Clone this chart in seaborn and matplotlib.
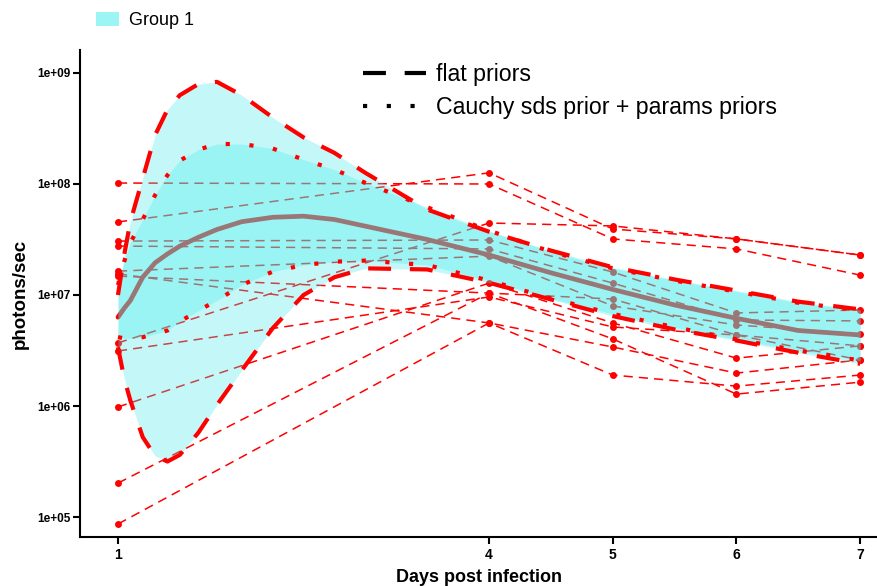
import numpy as np
import pandas as pd
import matplotlib
matplotlib.use('Agg')
import matplotlib.pyplot as plt
from matplotlib.lines import Line2D
from matplotlib.patches import Patch
from matplotlib.ticker import NullLocator
import seaborn as sns

# Observed flux per mouse (photons/sec) at each imaging day
days = [1, 4, 5, 6, 7]
mouse_01 = [1.02e8, 1.00e8, 3.20e7, 2.60e7, 1.51e7]
mouse_02 = [4.55e7, 1.26e8, 3.93e7, 3.20e7, 2.29e7]
mouse_03 = [3.06e7, 3.13e7, 1.61e7, 6.89e6, 7.33e6]
mouse_04 = [2.76e7, 2.60e7, 1.28e7, 5.96e6, 5.84e6]
mouse_05 = [1.64e7, 2.24e7, 7.96e6, 5.37e6, 4.46e6]
mouse_06 = [1.55e7, 5.60e6, 1.90e6, 1.51e6, 1.90e6]
mouse_07 = [1.48e7, 1.04e7, 9.20e6, 4.36e6, 3.48e6]
mouse_08 = [3.70e6, 4.45e7, 4.19e7, 3.20e7, 2.29e7]
mouse_09 = [3.13e6, 9.60e6, 5.15e6, 4.36e6, 2.60e6]
mouse_10 = [9.80e5, 1.28e7, 5.60e6, 2.70e6, 3.48e6]
mouse_11 = [2.02e5, 1.04e7, 4.02e6, 1.28e6, 1.64e6]
mouse_12 = [8.65e4, 5.60e6, 3.40e6, 1.98e6, 2.60e6]
mice = [mouse_01, mouse_02, mouse_03, mouse_04, mouse_05, mouse_06,
        mouse_07, mouse_08, mouse_09, mouse_10, mouse_11, mouse_12]

# Fitted curve and credible bands, log10(photons/sec)
band_days = [1, 1.05, 1.1, 1.2, 1.3, 1.4, 1.5, 1.65, 1.8, 2, 2.25, 2.5,
             2.75, 3, 3.5, 4, 4.5, 5, 5.5, 6, 6.5, 7]
flat_upper = [7.00, 7.36, 7.66, 8.05, 8.44, 8.67, 8.80, 8.90, 8.92, 8.80, 8.60,
              8.42, 8.28, 8.10, 7.77, 7.57, 7.40, 7.25, 7.14, 7.04, 6.94, 6.87]
flat_lower = [6.53, 6.25, 6.05, 5.72, 5.55, 5.50, 5.56, 5.76, 6.01, 6.32, 6.70,
              7.00, 7.16, 7.24, 7.23, 7.11, 6.96, 6.81, 6.69, 6.59, 6.48, 6.38]
cauchy_upper = [7.09, 7.30, 7.47, 7.68, 7.90, 8.08, 8.21, 8.31, 8.36, 8.36, 8.32,
                8.22, 8.13, 8.01, 7.79, 7.58, 7.39, 7.24, 7.13, 7.03, 6.93, 6.86]
cauchy_lower = [6.62, 6.61, 6.61, 6.62, 6.65, 6.68, 6.76, 6.86, 6.95, 7.09, 7.21,
                7.27, 7.30, 7.31, 7.27, 7.13, 6.97, 6.83, 6.71, 6.60, 6.50, 6.41]
mean_curve = [6.80, 6.88, 6.95, 7.16, 7.29, 7.37, 7.44, 7.52, 7.59, 7.66, 7.70,
              7.71, 7.68, 7.62, 7.50, 7.36, 7.20, 7.05, 6.91, 6.79, 6.68, 6.64]

y_ticks = [1e5, 1e6, 1e7, 1e8, 1e9]
y_tick_labels = ['1e+05', '1e+06', '1e+07', '1e+08', '1e+09']

sns.set_style('ticks')
plt.rcParams['font.family'] = ['Liberation Sans', 'DejaVu Sans']
for key in ['text.color', 'axes.labelcolor', 'xtick.color', 'ytick.color']:
    plt.rcParams[key] = 'black'

# long table for the per-mouse trajectories
df = pd.DataFrame({
    'mouse': np.repeat(np.arange(len(mice)), len(days)),
    'day': days * len(mice),
    'flux': np.concatenate(mice),
})

fig = plt.figure(figsize=(8.78, 5.86), dpi=100)
ax = fig.add_axes([80 / 878, 1 - 537 / 586, 798 / 878, 487 / 586])

# Individual mice (drawn under the bands)
sns.lineplot(data=df, x='day', y='flux', units='mouse', estimator=None,
             color='red', lw=1.1, linestyle=(0, (6, 4)), marker='o',
             markersize=5, markeredgewidth=0, ax=ax, zorder=1, legend=False)

# Mean curve
sns.lineplot(x=band_days, y=10 ** np.array(mean_curve), color='red', lw=3.4,
             ax=ax, zorder=1.5)

# Bands
band_col = '#3cebeb'
ax.fill_between(band_days, 10 ** np.array(flat_lower), 10 ** np.array(flat_upper),
                color=band_col, alpha=0.3, lw=0, zorder=2)
ax.fill_between(band_days, 10 ** np.array(cauchy_lower), 10 ** np.array(cauchy_upper),
                color=band_col, alpha=0.3, lw=0, zorder=2)

# Band edges
flat_ls = (0, (5.5, 4.5))
cauchy_ls = (0, (1, 4.7))
for curve in [flat_upper, flat_lower]:
    sns.lineplot(x=band_days, y=10 ** np.array(curve), color='red', lw=3,
                 linestyle=flat_ls, ax=ax, zorder=3)
for curve in [cauchy_upper, cauchy_lower]:
    sns.lineplot(x=band_days, y=10 ** np.array(curve), color='red', lw=3,
                 linestyle=cauchy_ls, ax=ax, zorder=3)

ax.set_yscale('log')
ax.set_xlim(0.693, 7.144)
ax.set_ylim(10 ** 4.82, 10 ** 9.207)
ax.set_xticks(days)
ax.set_xticklabels([str(d) for d in days])
ax.set_yticks(y_ticks)
ax.set_yticklabels(y_tick_labels)
ax.yaxis.set_minor_locator(NullLocator())
ax.tick_params(axis='both', length=5, width=1.5, color='black', labelcolor='black')
ax.tick_params(axis='y', labelsize=8.5, pad=2)
ax.tick_params(axis='x', labelsize=10, pad=3)
for lab in ax.get_xticklabels() + ax.get_yticklabels():
    lab.set_fontweight('bold')

for side in ['top', 'right']:
    ax.spines[side].set_visible(False)
for side in ['left', 'bottom']:
    ax.spines[side].set_linewidth(1.5)
    ax.spines[side].set_color('black')

ax.set_xlabel('Days post infection', fontsize=13, fontweight='bold', labelpad=5)
ax.set_ylabel('photons/sec', fontsize=13.5, fontweight='bold', labelpad=6)

# Legends
fig.legend(handles=[Patch(facecolor='#9bf5f5', edgecolor='none')], labels=['Group 1'],
           loc='upper left', bbox_to_anchor=(96 / 878, 1 - 12 / 586), frameon=False,
           fontsize=13, handlelength=1.3, handleheight=0.8, handletextpad=0.55,
           borderpad=0, borderaxespad=0)

line_handles = [Line2D([], [], color='black', lw=3, linestyle=flat_ls),
                Line2D([], [], color='black', lw=3, linestyle=cauchy_ls)]
fig.legend(handles=line_handles,
           labels=['flat priors', 'Cauchy sds prior + params priors'],
           loc='upper left', bbox_to_anchor=(363 / 878, 1 - 63 / 586), frameon=False,
           fontsize=16.7, handlelength=2.7, handletextpad=0.45, labelspacing=0.42,
           borderpad=0, borderaxespad=0)

fig.savefig('out.png', dpi=100)
